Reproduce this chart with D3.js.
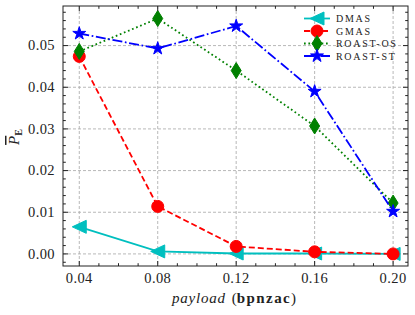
<!DOCTYPE html>
<html>
<head>
<meta charset="utf-8">
<script src="https://cdn.jsdelivr.net/npm/d3@7"></script>
<style>
  html, body { margin: 0; padding: 0; background: #fff; }
  svg { display: block; font-family: "Liberation Serif", "DejaVu Serif", serif; }
</style>
</head>
<body>
<svg id="chart" width="415" height="315"></svg>
<script>
// payload values (bpnzac)
const payloads = [0.04, 0.08, 0.12, 0.16, 0.20];

const dmas    = [0.0065, 0.0006, 0.0001, 0.0001, 0.0000];
const gmas    = [0.0474, 0.0114, 0.0018, 0.0005, 0.0000];
const roastOS = [0.0486, 0.0565, 0.0440, 0.0307, 0.0122];
const roastST = [0.0529, 0.0493, 0.0547, 0.0390, 0.0102];

const xTicks = [0.04, 0.08, 0.12, 0.16, 0.20];
const yTicks = [0.00, 0.01, 0.02, 0.03, 0.04, 0.05];

const series = [
	{ name: "DMAS", values: dmas, color: "#00bfbf", dash: null, marker: "tri" },
	{ name: "GMAS", values: gmas, color: "#ff0000", dash: "6,3", marker: "circle" },
	{ name: "ROAST-OS", values: roastOS, color: "#008000", dash: "1.7,2.7", marker: "diamond" },
	{ name: "ROAST-ST", values: roastST, color: "#0000ff", dash: "10,2.6,1.7,2.6", marker: "star" }
];

const svg = d3.select("#chart");
const box = { left: 63, right: 408, top: 6, bottom: 266 };

const x = d3.scaleLinear().domain([0.0317, 0.2076]).range([box.left, box.right]);
const y = d3.scaleLinear().domain([-0.0029, 0.0595]).range([box.bottom, box.top]);

// grid
const grid = svg.append("g")
	.attr("stroke", "#b0b0b0")
	.attr("stroke-width", 0.9)
	.attr("stroke-dasharray", "3,2");
xTicks.forEach(t => {
	grid.append("line").attr("x1", x(t)).attr("x2", x(t)).attr("y1", box.top).attr("y2", box.bottom);
});
yTicks.forEach(t => {
	grid.append("line").attr("x1", box.left).attr("x2", box.right).attr("y1", y(t)).attr("y2", y(t));
});

// markers
function markerPath(type) {
	if (type === "tri") {
		return "M-7,0L7,-6.5L7,6.5Z";
	}
	if (type === "diamond") {
		return "M0,-8L5,0L0,8L-5,0Z";
	}
	if (type === "star") {
		const pts = [];
		for (let i = 0; i < 10; i++) {
			const r = i % 2 ? 2.6 : 6.8;
			const a = -Math.PI / 2 + i * Math.PI / 5;
			pts.push([r * Math.cos(a), r * Math.sin(a)]);
		}
		return "M" + pts.map(p => p[0].toFixed(2) + "," + p[1].toFixed(2)).join("L") + "Z";
	}
	return d3.symbol().type(d3.symbolCircle).size(Math.PI * 36)();
}

const line = d3.line()
	.x((d, i) => x(payloads[i]))
	.y(d => y(d));

const plot = svg.append("g");
series.forEach(s => {
	const g = plot.append("g");
	g.append("path")
		.attr("d", line(s.values))
		.attr("fill", "none")
		.attr("stroke", s.color)
		.attr("stroke-width", 1.8)
		.attr("stroke-dasharray", s.dash);
	g.selectAll("path.mk")
		.data(s.values)
		.join("path")
		.attr("class", "mk")
		.attr("d", markerPath(s.marker))
		.attr("transform", (d, i) => `translate(${x(payloads[i])},${y(d)})`)
		.attr("fill", s.color)
		.attr("stroke", s.color)
		.attr("stroke-width", 1);
});

// frame and ticks (inward, all four sides)
const axes = svg.append("g").attr("stroke", "#222").attr("stroke-width", 1);
axes.append("rect")
	.attr("x", box.left).attr("y", box.top)
	.attr("width", box.right - box.left).attr("height", box.bottom - box.top)
	.attr("fill", "none");

const xMinor = d3.range(0.04, 0.2001, 0.01);
const yMinor = d3.range(-0.002, 0.0591, 0.002);
xMinor.forEach(t => {
	const major = xTicks.some(v => Math.abs(v - t) < 1e-6);
	const len = major ? 5 : 2.8;
	axes.append("line").attr("x1", x(t)).attr("x2", x(t)).attr("y1", box.bottom).attr("y2", box.bottom - len);
	axes.append("line").attr("x1", x(t)).attr("x2", x(t)).attr("y1", box.top).attr("y2", box.top + len);
});
yMinor.forEach(t => {
	const major = yTicks.some(v => Math.abs(v - t) < 1e-6);
	const len = major ? 5 : 2.8;
	axes.append("line").attr("x1", box.left).attr("x2", box.left + len).attr("y1", y(t)).attr("y2", y(t));
	axes.append("line").attr("x1", box.right).attr("x2", box.right - len).attr("y1", y(t)).attr("y2", y(t));
});

// tick labels
const fmt = d3.format(".2f");
svg.append("g").selectAll("text")
	.data(xTicks)
	.join("text")
	.attr("x", d => x(d))
	.attr("y", 283)
	.attr("text-anchor", "middle")
	.attr("font-size", 14.5)
	.attr("letter-spacing", 0.4)
	.attr("fill", "#222")
	.text(fmt);

svg.append("g").selectAll("text")
	.data(yTicks)
	.join("text")
	.attr("x", 55)
	.attr("y", d => y(d) + 4.8)
	.attr("text-anchor", "end")
	.attr("font-size", 14.5)
	.attr("letter-spacing", 0.4)
	.attr("fill", "#222")
	.text(fmt);

// axis labels
const xl = svg.append("text")
	.attr("x", 234)
	.attr("y", 303)
	.attr("text-anchor", "middle")
	.attr("font-size", 15)
	.attr("fill", "#222");
xl.append("tspan").attr("font-style", "italic").attr("letter-spacing", 0.8).text("payload");
xl.append("tspan").attr("dx", 6).text("(");
xl.append("tspan").attr("font-weight", "bold").attr("letter-spacing", 1.4).text("bpnzac");
xl.append("tspan").text(")");

const yl = svg.append("text")
	.attr("transform", "translate(19,137) rotate(-90)")
	.attr("text-anchor", "middle")
	.attr("font-size", 15)
	.attr("fill", "#222");
yl.append("tspan")
	.attr("font-style", "italic")
	.attr("text-decoration", "overline")
	.style("text-decoration", "overline")
	.text("P");
yl.append("tspan").attr("font-weight", "bold").attr("font-size", 10).attr("dy", 3).text("E");

// legend
const legend = svg.append("g");
const legendY = [18.5, 31, 43.5, 56];
series.forEach((s, i) => {
	const g = legend.append("g").attr("transform", `translate(0,${legendY[i]})`);
	g.append("line")
		.attr("x1", 304).attr("x2", 330)
		.attr("stroke", s.color)
		.attr("stroke-width", 1.8)
		.attr("stroke-dasharray", s.dash);
	g.append("path")
		.attr("d", markerPath(s.marker))
		.attr("transform", "translate(317,0)")
		.attr("fill", s.color)
		.attr("stroke", s.color);
	g.append("text")
		.attr("x", 336)
		.attr("y", 3.6)
		.attr("font-size", 10)
		.attr("letter-spacing", 1.7)
		.attr("fill", "#222")
		.text(s.name);
});
</script>
</body>
</html>
